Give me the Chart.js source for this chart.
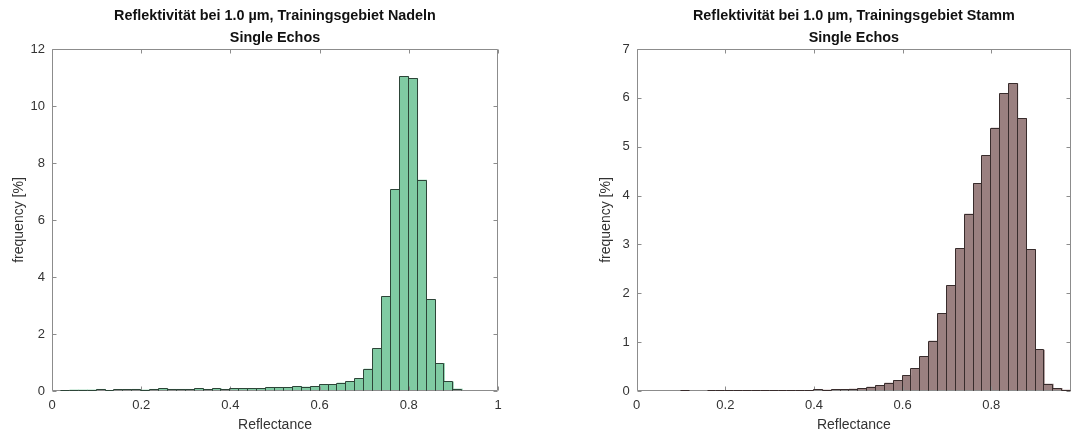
<!DOCTYPE html>
<html>
<head>
<meta charset="utf-8">
<script src="https://cdn.jsdelivr.net/npm/chart.js@4/dist/chart.umd.min.js"></script>
<style>
  html, body { margin: 0; padding: 0; background: #fff; overflow: hidden; }
  body { width: 1073px; height: 432px; position: relative; }
  canvas { position: absolute; top: 0; }
  #left { left: 0; }
  #right { left: 584px; }
</style>
</head>
<body>
<canvas id="left" width="540" height="432"></canvas>
<canvas id="right" width="489" height="432"></canvas>
<script>
// Histogram bin centres (bin width 0.02) and frequencies in percent; null = empty bin
const nadelnCenters = [0.03, 0.05, 0.07, 0.09, 0.11, 0.13, 0.15, 0.17, 0.19, 0.21,
  0.23, 0.25, 0.27, 0.29, 0.31, 0.33, 0.35, 0.37, 0.39, 0.41,
  0.43, 0.45, 0.47, 0.49, 0.51, 0.53, 0.55, 0.57, 0.59, 0.61,
  0.63, 0.65, 0.67, 0.69, 0.71, 0.73, 0.75, 0.77, 0.79, 0.81,
  0.83, 0.85, 0.87, 0.89, 0.91];
const nadelnFreq = [0.02, 0.035, 0.035, 0.035, 0.06, 0.025, 0.045, 0.045, 0.06, 0.035,
  0.06, 0.08, 0.06, 0.06, 0.06, 0.08, 0.06, 0.08, 0.06, 0.08,
  0.08, 0.09, 0.09, 0.13, 0.13, 0.13, 0.16, 0.14, 0.16, 0.23,
  0.23, 0.28, 0.33, 0.44, 0.77, 1.49, 3.32, 7.06, 11.03, 10.97,
  7.40, 3.20, 0.97, 0.32, 0.07];

const stammCenters = [0.01, 0.03, 0.05, 0.07, 0.09, 0.11, 0.13, 0.15, 0.17, 0.19,
  0.21, 0.23, 0.25, 0.27, 0.29, 0.31, 0.33, 0.35, 0.37, 0.39,
  0.41, 0.43, 0.45, 0.47, 0.49, 0.51, 0.53, 0.55, 0.57, 0.59,
  0.61, 0.63, 0.65, 0.67, 0.69, 0.71, 0.73, 0.75, 0.77, 0.79,
  0.81, 0.83, 0.85, 0.87, 0.89, 0.91, 0.93, 0.95, 0.97];
const stammFreq = [null, null, null, null, null, 0.01, null, null, 0.006, 0.008,
  0.003, 0.005, 0.005, 0.005, 0.005, 0.005, 0.006, 0.012, 0.012, 0.015,
  0.03, 0.02, 0.025, 0.03, 0.04, 0.055, 0.08, 0.115, 0.16, 0.22,
  0.31, 0.465, 0.70, 1.02, 1.58, 2.16, 2.91, 3.62, 4.25, 4.82,
  5.38, 6.09, 6.29, 5.58, 2.90, 0.84, 0.143, 0.055, 0.02];

// Tick positions
const nadelnXTicks = [0, 0.2, 0.4, 0.6, 0.8, 1];
const nadelnYTicks = [0, 2, 4, 6, 8, 10, 12];
const stammXTicks = [0, 0.2, 0.4, 0.6, 0.8];
const stammYTicks = [0, 1, 2, 3, 4, 5, 6, 7];

const nadelnTitle = ['Reflektivität bei 1.0 µm, Trainingsgebiet Nadeln', 'Single Echos'];
const stammTitle = ['Reflektivität bei 1.0 µm, Trainingsgebiet Stamm', 'Single Echos'];
const xLabel = 'Reflectance';
const yLabel = 'frequency [%]';

const AXIS_COLOR = '#8c8c8c';
const TEXT_COLOR = '#333333';
const FONT = "'Liberation Sans', Arial, Helvetica, sans-serif";

Chart.defaults.font.family = FONT;
Chart.defaults.color = TEXT_COLOR;

// Axes box with inward ticks on all four sides
const framePlugin = {
  id: 'frame',
  afterDatasetsDraw(chart) {
    const { ctx, chartArea: { left, right, top, bottom }, scales: { x, y } } = chart;
    const L = Math.round(left) + 0.5, R = Math.round(right) - 0.5;
    const T = Math.round(top) + 0.5, B = Math.round(bottom) - 0.5;
    const len = 4;
    ctx.save();
    ctx.strokeStyle = AXIS_COLOR;
    ctx.lineWidth = 1;
    ctx.beginPath();
    ctx.rect(L, T, R - L, B - T);
    x.ticks.forEach(t => {
      const px = Math.round(x.getPixelForValue(t.value)) + 0.5;
      ctx.moveTo(px, B); ctx.lineTo(px, B - len);
      ctx.moveTo(px, T); ctx.lineTo(px, T + len);
    });
    y.ticks.forEach(t => {
      const py = Math.round(y.getPixelForValue(t.value)) + 0.5;
      ctx.moveTo(L, py); ctx.lineTo(L + len, py);
      ctx.moveTo(R, py); ctx.lineTo(R - len, py);
    });
    ctx.stroke();
    ctx.restore();
  }
};

// Crisp 1px outline of every histogram bar, taken from the bar elements' geometry
const outlinePlugin = {
  id: 'outline',
  afterDatasetsDraw(chart) {
    const ctx = chart.ctx;
    const ds = chart.data.datasets[0];
    const meta = chart.getDatasetMeta(0);
    ctx.save();
    ctx.strokeStyle = ds.outlineColor;
    ctx.lineWidth = 1;
    ctx.beginPath();
    meta.data.forEach((bar, i) => {
      if (ds.data[i].y === null) return;
      const p = bar.getProps(['x', 'y', 'base', 'width'], true);
      if (!isFinite(p.y)) return;
      const l = Math.round(p.x - p.width / 2) - 0.5;
      const r = Math.round(p.x + p.width / 2) - 0.5;
      const t = Math.floor(p.y) + 0.5;
      const b = Math.round(p.base) - 0.5;
      ctx.moveTo(l, b);
      ctx.lineTo(l, t);
      ctx.lineTo(r, t);
      ctx.lineTo(r, b);
    });
    ctx.stroke();
    ctx.restore();
  }
};

function fmt(v) {
  return String(Math.round(v * 10) / 10);
}

function makeHistogram(canvasId, cfg) {
  const data = cfg.centers.map((c, i) => ({ x: c, y: cfg.values[i] }));
  return new Chart(document.getElementById(canvasId), {
    type: 'bar',
    data: {
      datasets: [{
        data,
        backgroundColor: cfg.fill,
        outlineColor: cfg.edge,
        borderWidth: 0,
        barPercentage: 1,
        categoryPercentage: 1
      }]
    },
    options: {
      responsive: false,
      animation: false,
      devicePixelRatio: 1,
      layout: { padding: { left: 0, right: cfg.padRight, top: 0, bottom: 0 } },
      plugins: {
        legend: { display: false },
        tooltip: { enabled: false },
        title: {
          display: true,
          text: cfg.title,
          fullSize: false,
          color: '#111111',
          font: { family: FONT, size: 14.4, weight: 'bold', lineHeight: 22 / 14.4 },
          padding: { top: 5, bottom: 0 }
        }
      },
      scales: {
        x: {
          type: 'linear',
          min: cfg.xMin,
          max: cfg.xMax,
          offset: false,
          grid: { display: false, drawTicks: false },
          border: { display: false },
          afterBuildTicks: (s) => { s.ticks = cfg.xTicks.map(v => ({ value: v })); },
          afterFit: (s) => { s.height = 41; },
          ticks: {
            padding: 7,
            maxRotation: 0,
            autoSkip: false,
            color: TEXT_COLOR,
            font: { size: 13 },
            callback: (v) => fmt(v)
          },
          title: {
            display: true,
            text: xLabel,
            color: TEXT_COLOR,
            font: { size: 14, lineHeight: 1 },
            padding: { top: 0, bottom: 0 }
          }
        },
        y: {
          type: 'linear',
          min: cfg.yMin,
          max: cfg.yMax,
          grid: { display: false, drawTicks: false },
          border: { display: false },
          afterBuildTicks: (s) => { s.ticks = cfg.yTicks.map(v => ({ value: v })); },
          afterFit: (s) => { s.width = cfg.yAxisWidth; },
          ticks: {
            padding: 7,
            autoSkip: false,
            color: TEXT_COLOR,
            font: { size: 13 },
            callback: (v) => fmt(v)
          },
          title: {
            display: true,
            text: yLabel,
            color: TEXT_COLOR,
            font: { size: 14, lineHeight: 1 },
            padding: { top: cfg.yTitlePad, bottom: 0 }
          }
        }
      }
    },
    plugins: [framePlugin, outlinePlugin]
  });
}

makeHistogram('left', {
  centers: nadelnCenters,
  values: nadelnFreq,
  title: nadelnTitle,
  xMin: 0, xMax: 1,
  yMin: 0, yMax: 12,
  xTicks: nadelnXTicks,
  yTicks: nadelnYTicks,
  fill: '#80cba3',
  edge: '#2d4538',
  yAxisWidth: 52,
  yTitlePad: 12,
  padRight: 42
});

makeHistogram('right', {
  centers: stammCenters,
  values: stammFreq,
  title: stammTitle,
  xMin: 0, xMax: 0.98,
  yMin: 0, yMax: 7,
  xTicks: stammXTicks,
  yTicks: stammYTicks,
  fill: '#9a8080',
  edge: '#382c2c',
  yAxisWidth: 52.7,
  yTitlePad: 15,
  padRight: 2
});
</script>
</body>
</html>
